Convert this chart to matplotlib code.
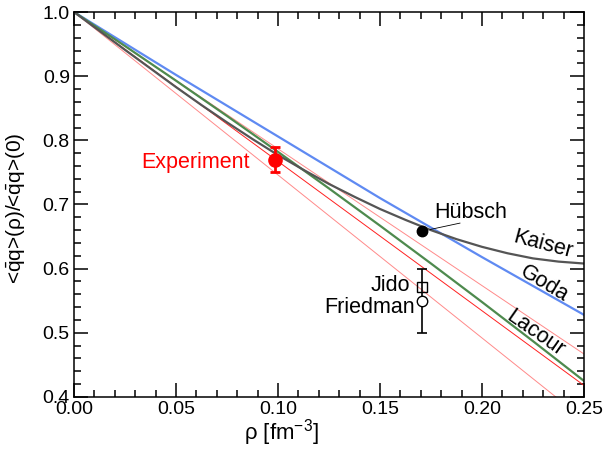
import matplotlib
matplotlib.use("Agg")
import matplotlib.pyplot as plt
from matplotlib.ticker import MultipleLocator

plt.rcParams['font.family'] = ['Liberation Sans', 'DejaVu Sans']
plt.rcParams['mathtext.fontset'] = 'custom'
plt.rcParams['mathtext.rm'] = 'Liberation Sans'
plt.rcParams['mathtext.it'] = 'Liberation Sans:italic'

# curves
rho_k = [0.0, 0.0125, 0.025, 0.0375, 0.05, 0.0625, 0.075, 0.0875, 0.1, 0.1125,
         0.125, 0.1375, 0.15, 0.1625, 0.175, 0.1875, 0.2, 0.2125, 0.225,
         0.2375, 0.25]
kaiser = [1.0, 0.9705, 0.941, 0.912, 0.883, 0.855, 0.828, 0.802, 0.777, 0.754,
          0.732, 0.712, 0.693, 0.676, 0.660, 0.646, 0.634, 0.624, 0.616,
          0.611, 0.608]
rho = [0.0, 0.025, 0.05, 0.075, 0.1, 0.125, 0.15, 0.175, 0.2, 0.225, 0.25]
goda = [1.0, 0.951, 0.902, 0.854, 0.806, 0.758, 0.710, 0.664, 0.618, 0.573, 0.528]
lacour = [1.0, 0.947, 0.893, 0.838, 0.782, 0.725, 0.667, 0.608, 0.548, 0.487, 0.425]

# linear band (centre and edges)
rho_band = [0.0, 0.25]
band_mid = [1.0, 0.418]
band_hi = [1.0, 0.467]
band_lo = [1.0, 0.365]

# points
exp_rho, exp_val, exp_err = 0.0985, 0.77, 0.02
hubsch_rho, hubsch_val = 0.1705, 0.658
jido_rho, jido_val = 0.1705, 0.572
friedman_rho, friedman_val, friedman_err = 0.1705, 0.55, 0.05

fig = plt.figure(figsize=(6.03, 4.55), dpi=100)
ax = fig.add_axes([0.1227, 0.1275, 0.8458, 0.8461])

ax.plot(rho_band, band_hi, color='#ff8a8a', lw=0.7)
ax.plot(rho_band, band_lo, color='#ff8a8a', lw=0.7)
ax.plot(rho_band, band_mid, color='#ff2020', lw=0.7)
ax.plot(rho, goda, color='#5f8af2', lw=1.6)
ax.plot(rho, lacour, color='#4e8a4e', lw=1.6)
ax.plot(rho_k, kaiser, color='#555555', lw=1.6)

ax.errorbar(exp_rho, exp_val, yerr=exp_err, fmt='o', color='#ff0000',
            ms=9.5, lw=2, capsize=3.5, capthick=2)
ax.plot(hubsch_rho, hubsch_val, 'o', color='black', ms=7.5)
ax.errorbar(friedman_rho, friedman_val, yerr=friedman_err, fmt='o', mfc='white',
            mec='black', color='black', ms=7.5, lw=1.2, capsize=3.5, capthick=1.2)
ax.plot(jido_rho, jido_val, 's', mfc='none', mec='black', ms=6.5, mew=1.0)

fs = 15.5
ax.text(0.0863, 0.766, 'Experiment', color='#ff0000', fontsize=fs,
        ha='right', va='center')
ax.text(0.1945, 0.688, 'Hübsch', fontsize=fs, ha='center', va='center')
ax.plot([0.1745, 0.1892], [0.661, 0.671], color='black', lw=0.6)
ax.text(0.2297, 0.637, 'Kaiser', fontsize=fs, ha='center', va='center',
        rotation=-15)
ax.text(0.2306, 0.576, 'Goda', fontsize=fs, ha='center', va='center',
        rotation=-31)
ax.text(0.226, 0.499, 'Lacour', fontsize=fs, ha='center', va='center',
        rotation=-35)
ax.text(0.1647, 0.574, 'Jido', fontsize=fs, ha='right', va='center')
ax.text(0.1672, 0.540, 'Friedman', fontsize=fs, ha='right', va='center')

ax.set_xlim(0, 0.25)
ax.set_ylim(0.4, 1.0)
ax.xaxis.set_major_locator(MultipleLocator(0.05))
ax.xaxis.set_minor_locator(MultipleLocator(0.01))
ax.yaxis.set_major_locator(MultipleLocator(0.1))
ax.yaxis.set_minor_locator(MultipleLocator(0.02))
ax.xaxis.set_major_formatter(plt.FormatStrFormatter('%.2f'))
ax.yaxis.set_major_formatter(plt.FormatStrFormatter('%.1f'))
ax.tick_params(which='both', direction='in', top=True, right=True,
               labelsize=14, width=1.1)
ax.tick_params(which='major', length=10, pad=3)
ax.tick_params(which='minor', length=5)
for s in ax.spines.values():
    s.set_linewidth(1.1)

ax.set_xlabel('ρ [fm$^{-3}$]', fontsize=16)
ax.xaxis.set_label_coords(0.406, -0.052)
ax.set_ylabel(r'<$\bar{\mathrm{q}}$q>(ρ)/<$\bar{\mathrm{q}}$q>(0)', fontsize=15)
ax.yaxis.set_label_coords(-0.092, 0.49)

fig.savefig('out.png', dpi=100)
